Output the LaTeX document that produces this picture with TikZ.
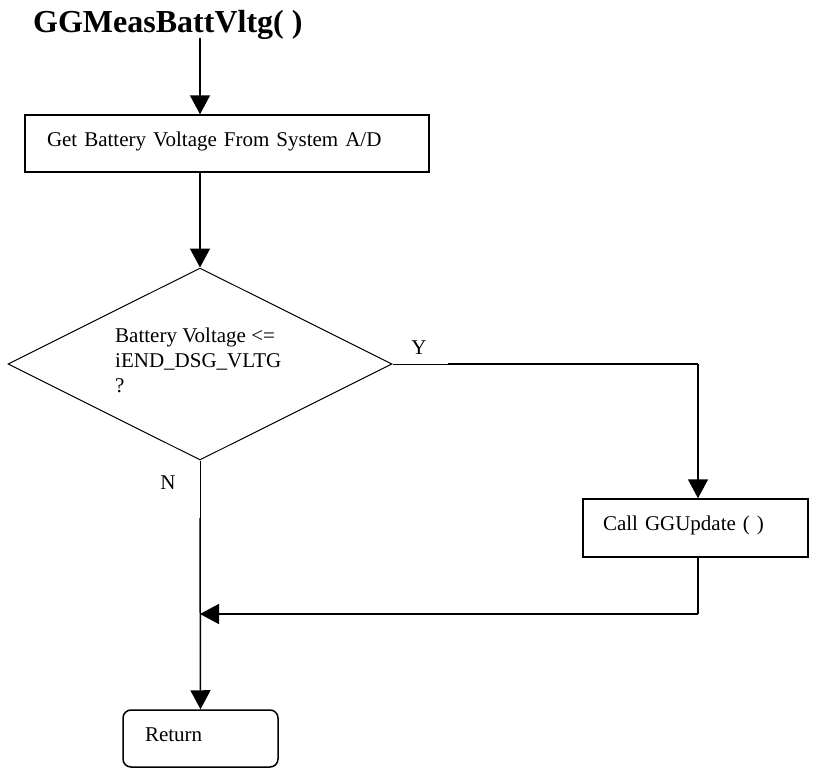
\documentclass[tikz,border=0pt]{standalone}
\usepackage{fontspec}
\setmainfont{Liberation Serif}
\usetikzlibrary{arrows.meta,shapes.geometric}
\begin{document}
\begin{tikzpicture}[x=1pt,y=-1pt,
  every node/.style={font=\fontsize{21}{25}\selectfont},
  thickln/.style={line width=1.5pt},
  thinln/.style={line width=0.8pt},
  arr/.style={thickln,-{Triangle[length=19pt,width=20pt]}},
  procbox/.style={draw,line width=1.5pt,align=left,inner ysep=0pt,text height=12pt,text depth=7pt},
]
\useasboundingbox (0,0) rectangle (838,771);

\node[font=\bfseries\fontsize{32}{38}\selectfont, anchor=base west, inner sep=0pt] (title) at (33,32) {GGMeasBattVltg( )};
\coordinate (t0) at (200,38);

\node[procbox, minimum width=404pt, minimum height=57pt, text width=360pt, inner xsep=22pt] (get) at (227,143.5) {Get Battery Voltage From System A/D};
\draw[arr] (t0) -- (t0 |- get.north);

\node[diamond, draw, line width=1pt, minimum width=384pt, minimum height=192pt, inner sep=0pt] (dec) at (200,364) {};
\draw[arr] (t0 |- get.south) -- (dec.north);
\node[anchor=north west, align=left, inner sep=0pt] (dtext) at (115,327.7) {Battery Voltage <=\\iEND\_DSG\_VLTG\\?};

\node (ylab) at (419,348) {Y};
\coordinate (ybreak) at (448,364);
\coordinate (ycorner) at (698,364);
\draw[thinln] (dec.east) -- (ybreak);
\draw[thickln] (ybreak) -- (ycorner);

\node[procbox, minimum width=225pt, minimum height=58pt, text width=185pt, inner xsep=20pt] (call) at (695.5,528) {Call GGUpdate ( )};
\draw[arr] (ycorner) -- (ycorner |- call.north);

\coordinate (rcorner) at (698,614);
\coordinate (nbreak) at (200,518);
\draw[thickln] (ycorner |- call.south) -- (rcorner);
\draw[arr] (rcorner) -- (nbreak |- rcorner);

\node (nlab) at (168,483) {N};
\draw[thinln] (dec.south) -- (nbreak);

\node[procbox, rounded corners=8pt, minimum width=155pt, minimum height=57pt, text width=111pt, inner xsep=22pt] (ret) at (200.5,738.5) {Return};
\draw[arr] (nbreak) -- (ret.north);
\end{tikzpicture}
\end{document}
